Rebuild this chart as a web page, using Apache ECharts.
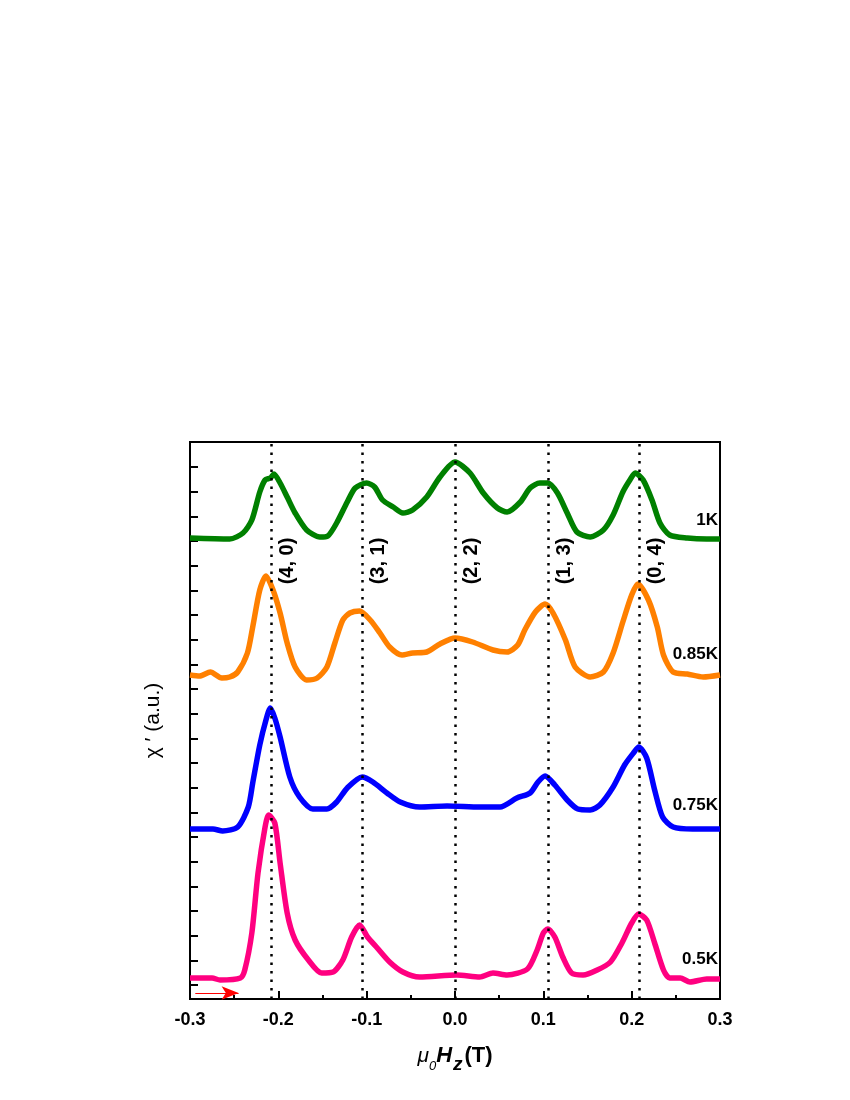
<!DOCTYPE html>
<html>
<head>
<meta charset="utf-8">
<script src="https://cdn.jsdelivr.net/npm/echarts@6/dist/echarts.min.js"></script>
<style>
html,body{margin:0;padding:0;background:#fff;}
#chart{width:850px;height:1100px;}
</style>
</head>
<body>
<div id="chart"></div>
<script>
// ---- data (x in T, y in arbitrary units) ----
const xTickLabels = ['-0.3','-0.2','-0.1','0.0','0.1','0.2','0.3'];
const seriesNames = ['1K','0.85K','0.75K','0.5K'];
const seriesColors = ['#008000','#FF8000','#0000FF','#FF0080'];

const data1K = [
[-0.300,461],[-0.255,460],[-0.240,466],[-0.230,479],[-0.221,507],[-0.215,519],[-0.209,521],[-0.205,525],
[-0.198,516],[-0.190,502],[-0.181,486],[-0.168,469],[-0.153,462],[-0.144,463],[-0.134,476],[-0.122,497],
[-0.113,511],[-0.100,516],[-0.091,512],[-0.082,499],[-0.070,492],[-0.059,486],[-0.048,489],[-0.032,502],
[-0.017,522],[0.000,537],[0.017,526],[0.032,506],[0.048,491],[0.059,487],[0.074,497],[0.085,511],
[0.096,516],[0.105,516],[0.116,506],[0.127,486],[0.138,467],[0.153,462],[0.168,469],[0.179,484],
[0.190,507],[0.198,519],[0.204,526],[0.213,519],[0.223,499],[0.232,476],[0.243,464],[0.263,461],
[0.285,460],[0.300,460]
];
const data085K = [
[-0.300,324],[-0.289,323],[-0.277,327],[-0.264,321],[-0.255,322],[-0.246,327],[-0.235,346],[-0.229,372],
[-0.221,409],[-0.214,423],[-0.206,409],[-0.198,386],[-0.190,356],[-0.181,332],[-0.168,319],[-0.156,321],
[-0.145,332],[-0.136,356],[-0.127,379],[-0.119,386],[-0.108,388],[-0.096,379],[-0.085,366],[-0.074,352],
[-0.060,344],[-0.048,346],[-0.032,347],[-0.017,355],[0.000,361],[0.020,357],[0.043,349],[0.059,347],
[0.071,354],[0.079,369],[0.091,387],[0.102,395],[0.111,386],[0.125,359],[0.136,332],[0.153,322],
[0.168,327],[0.179,346],[0.190,377],[0.200,404],[0.207,415],[0.219,399],[0.229,372],[0.236,344],
[0.247,327],[0.263,325],[0.281,322],[0.300,324]
];
const data075K = [
[-0.300,170],[-0.274,170],[-0.263,168],[-0.246,172],[-0.234,192],[-0.229,216],[-0.221,254],[-0.214,279],
[-0.209,291],[-0.204,281],[-0.198,262],[-0.187,222],[-0.176,202],[-0.161,190],[-0.145,190],[-0.134,197],
[-0.122,211],[-0.105,222],[-0.093,217],[-0.077,206],[-0.062,197],[-0.040,192],[-0.009,193],[0.028,192],
[0.051,192],[0.070,201],[0.085,206],[0.094,217],[0.102,223],[0.113,214],[0.127,199],[0.139,190],
[0.153,189],[0.164,194],[0.179,212],[0.192,234],[0.202,246],[0.208,252],[0.217,241],[0.226,209],
[0.235,182],[0.247,172],[0.269,170],[0.300,170]
];
const data05K = [
[-0.300,21],[-0.275,21],[-0.266,19],[-0.243,21],[-0.238,29],[-0.230,66],[-0.223,126],[-0.215,172],
[-0.211,184],[-0.204,176],[-0.198,136],[-0.190,86],[-0.181,59],[-0.166,39],[-0.151,26],[-0.138,27],
[-0.127,39],[-0.117,62],[-0.108,74],[-0.099,62],[-0.088,51],[-0.074,37],[-0.059,27],[-0.040,22],
[0.002,24],[0.028,22],[0.043,26],[0.059,24],[0.082,30],[0.093,49],[0.100,66],[0.105,70],
[0.113,62],[0.122,42],[0.132,26],[0.145,24],[0.161,29],[0.176,37],[0.189,56],[0.200,76],
[0.208,85],[0.217,79],[0.226,56],[0.236,29],[0.243,21],[0.255,21],[0.266,17],[0.285,20],[0.300,20]
];
const tempLabelY = [479, 345, 194, 40];

const peakLabels = ['(4, 0)','(3, 1)','(2, 2)','(1, 3)','(0, 4)'];
const peakX = [-0.208, -0.105, 0.0, 0.106, 0.209];
const peakLabelY = 438;

const yTicks = [14,38.7,63.3,88,112.6,137.3,162,186.6,211.3,236,260.6,285.3,310,334.6,359.2,383.9,408.6,433.2,457.9,482.6,507.2,532];
const arrowX = [-0.294, -0.245];
const arrowY = 6;

// ---- chart ----
const chart = echarts.init(document.getElementById('chart'), null, {renderer:'canvas'});
const FONT = 'Liberation Sans, Arial, sans-serif';
const allData = [data1K, data085K, data075K, data05K];

const series = allData.map((d, i) => ({
  name: seriesNames[i],
  type: 'line',
  data: d,
  showSymbol: false,
  smooth: 0.25,
  lineStyle: {color: seriesColors[i], width: 5.5},
  z: 3,
  silent: true
}));

// dotted vertical lines
series.push({
  type: 'line', data: [], silent: true,
  markLine: {
    silent: true, symbol: ['none','none'], precision: 4,
    label: {show: false},
    lineStyle: {color: '#000', width: 2.5, type: [2.5, 6]},
    data: peakX.map(x => ({xAxis: x}))
  },
  z: 2
});

// peak labels
series.push({
  type: 'scatter', symbolSize: 0, silent: true,
  itemStyle: {color: '#000', opacity: 1},
  data: peakX.map((x, i) => ({value: [x, peakLabelY], name: peakLabels[i]})),
  label: {
    show: true, formatter: p => p.name, rotate: 90,
    position: 'inside', offset: [0, 16],
    fontFamily: FONT, fontWeight: 'bold', fontSize: 20, color: '#000',
    textBorderWidth: 0, opacity: 1
  },
  z: 4
});

// temperature labels
series.push({
  type: 'scatter', symbolSize: 0, silent: true,
  itemStyle: {color: '#000', opacity: 1},
  data: seriesNames.map((n, i) => ({value: [0.3, tempLabelY[i]], name: n})),
  label: {
    show: true, formatter: p => p.name, position: 'left', distance: 2,
    fontFamily: FONT, fontWeight: 'bold', fontSize: 17, color: '#000',
    textBorderWidth: 0, opacity: 1
  },
  z: 4
});

// red arrow
series.push({
  type: 'line', data: [], silent: true,
  markLine: {
    silent: true, symbol: ['none','arrow'], symbolSize: [10, 17],
    label: {show: false},
    lineStyle: {color: '#FF0000', width: 1, type: 'solid'},
    data: [[{coord: [arrowX[0], arrowY]}, {coord: [arrowX[1], arrowY]}]]
  },
  z: 5
});

chart.setOption({
  animation: false,
  backgroundColor: '#fff',
  grid: {left: 190, right: 130, top: 442, bottom: 101, show: true, borderColor: '#000', borderWidth: 2, backgroundColor: 'transparent'},
  xAxis: {
    type: 'value', min: -0.3, max: 0.3, interval: 0.1,
    axisLine: {show: true, onZero: false, lineStyle: {color: '#000', width: 2}},
    axisTick: {show: true, inside: true, length: 8, lineStyle: {color: '#000', width: 2}},
    minorTick: {show: true, splitNumber: 2, length: 4, lineStyle: {color: '#000', width: 2}},
    splitLine: {show: false},
    axisLabel: {
      margin: 12, fontFamily: FONT, fontWeight: 'bold', fontSize: 18, color: '#000',
      formatter: v => xTickLabels[Math.round((v + 0.3) / 0.1)]
    },
    name: '{mu|μ}{sub|0}{H|H}{z|z}{T|(T)}',
    nameLocation: 'middle', nameGap: 38,
    nameTextStyle: {
      color: '#000',
      rich: {
        mu: {fontFamily: FONT, fontStyle: 'italic', fontSize: 21, color: '#000', verticalAlign: 'bottom', lineHeight: 30},
        sub: {fontFamily: FONT, fontStyle: 'italic', fontSize: 13, color: '#000', verticalAlign: 'bottom', lineHeight: 30, padding: [0, 0, -6, 0]},
        H: {fontFamily: FONT, fontStyle: 'italic', fontWeight: 'bold', fontSize: 22, color: '#000', verticalAlign: 'bottom', lineHeight: 30},
        z: {fontFamily: FONT, fontStyle: 'italic', fontWeight: 'bold', fontSize: 19, color: '#000', verticalAlign: 'bottom', lineHeight: 30, padding: [0, 2, -7, 1]},
        T: {fontFamily: FONT, fontWeight: 'bold', fontSize: 22, color: '#000', verticalAlign: 'bottom', lineHeight: 30}
      }
    }
  },
  yAxis: {
    type: 'value', min: 0, max: 557,
    axisLine: {show: true, onZero: false, lineStyle: {color: '#000', width: 2}},
    axisTick: {show: true, inside: true, length: 8, customValues: yTicks, lineStyle: {color: '#000', width: 2}},
    axisLabel: {show: false},
    splitLine: {show: false},
    name: 'χ ′ (a.u.)',
    nameLocation: 'middle', nameGap: 26, nameRotate: 90,
    nameTextStyle: {fontFamily: FONT, fontSize: 21, color: '#000'}
  },
  series: series
});
</script>
</body>
</html>
